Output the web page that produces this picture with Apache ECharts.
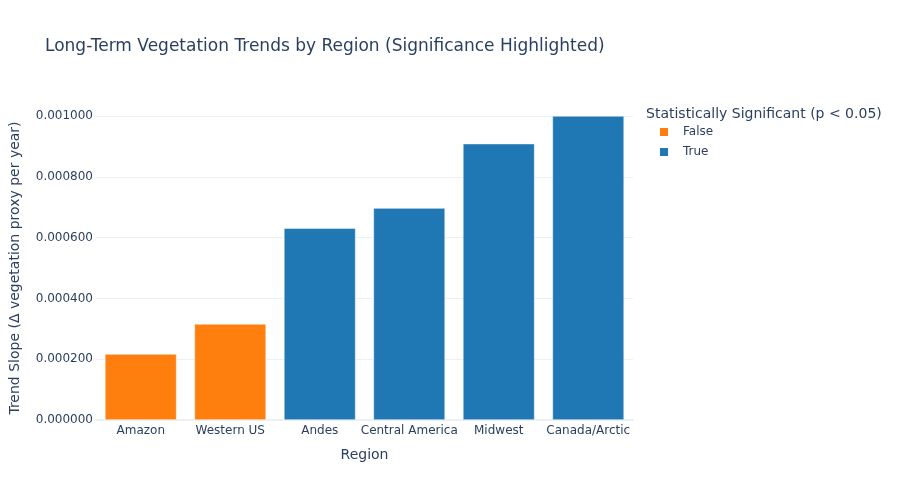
<!DOCTYPE html>
<html>
<head>
<meta charset="utf-8">
<script src="https://cdn.jsdelivr.net/npm/echarts@6/dist/echarts.min.js"></script>
<style>html,body{margin:0;padding:0;background:#fff}#c{width:900px;height:500px}</style>
</head>
<body>
<div id="c"></div>
<script>
const regions = ["Amazon", "Western US", "Andes", "Central America", "Midwest", "Canada/Arctic"];
const slopes = [0.000217, 0.000316, 0.000631, 0.000697, 0.000909, 0.001000];
const significant = [false, false, true, true, true, true];
const groups = ["False", "True"];
const groupColors = {"False": "#ff7f0e", "True": "#1f77b4"};
const yTicks = [0, 0.0002, 0.0004, 0.0006, 0.0008, 0.001];

const font = '"DejaVu Sans", verdana, arial, sans-serif';
const txt = '#2a3f5f';

const series = groups.map(g => ({
  name: g,
  type: 'bar',
  stack: 'all',
  barWidth: '80%',
  itemStyle: { color: groupColors[g], borderColor: '#fff', borderWidth: 0.5 },
  data: slopes.map((v, i) => (String(significant[i]) === g.toLowerCase() ? v : null))
}));

const chart = echarts.init(document.getElementById('c'), null, {renderer: 'canvas'});
chart.setOption({
  animation: false,
  backgroundColor: '#fff',
  textStyle: { fontFamily: font },
  title: [
    { text: 'Long-Term Vegetation Trends by Region (Significance Highlighted)', left: 40, top: 33,
      textStyle: { fontFamily: font, fontSize: 17, fontWeight: 'normal', color: txt } },
    { text: 'Statistically Significant (p < 0.05)', left: 641, top: 102,
      textStyle: { fontFamily: font, fontSize: 14, fontWeight: 'normal', color: txt } }
  ],
  legend: {
    data: groups, orient: 'vertical', left: 653, top: 121, icon: 'rect',
    itemWidth: 10, itemHeight: 10, itemGap: 8,
    textStyle: { fontFamily: font, fontSize: 12, lineHeight: 12, color: txt, padding: [0, 0, 0, 9] }
  },
  grid: { left: 96, right: 267, top: 116, bottom: 80, containLabel: false, outerBoundsMode: 'none' },
  xAxis: {
    type: 'category', data: regions,
    name: 'Region', nameLocation: 'middle', nameGap: 28,
    nameTextStyle: { fontFamily: font, fontSize: 14, color: txt },
    axisLine: { show: true, lineStyle: { color: '#ebf0f8', width: 2 } },
    axisTick: { show: false },
    axisLabel: { fontFamily: font, fontSize: 12, color: txt, margin: 5, interval: 0 }
  },
  yAxis: {
    type: 'value', min: yTicks[0], max: yTicks[yTicks.length - 1], interval: 0.0002,
    name: 'Trend Slope (Δ vegetation proxy per year)', nameLocation: 'middle', nameGap: 74,
    nameTextStyle: { fontFamily: font, fontSize: 14, color: txt },
    axisLine: { show: false }, axisTick: { show: false },
    splitLine: { lineStyle: { color: '#ebf0f8', width: 1 } },
    axisLabel: { fontFamily: font, fontSize: 12, color: txt, margin: 3,
      formatter: v => v.toFixed(6) }
  },
  series: series
});
</script>
</body>
</html>
